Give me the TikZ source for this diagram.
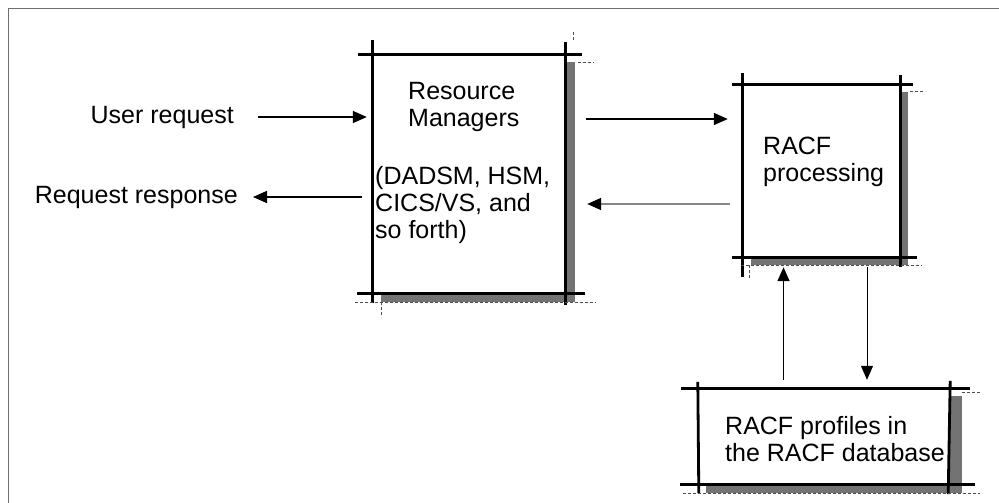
\documentclass[tikz,border=0pt]{standalone}
\usepackage{fontspec}
\setmainfont{Liberation Sans}
\usepackage{tikz}
\usetikzlibrary{arrows.meta,positioning,patterns}
\definecolor{framegray}{RGB}{110,110,110}
\definecolor{backgray}{RGB}{135,135,135}
\tikzset{
  sketchbox/.style={
    rectangle,
    inner sep=0pt,
    draw=none
  },
  sketchline/.style={
    line width=2.8pt,
    draw=black
  },
  sketchshadow/.style={
    fill=black!55
  },
  sketchdots/.style={
    densely dashed,
    line width=0.6pt,
    draw=black!70
  },
  boxtext/.style={
    align=left,
    inner sep=0pt,
    font=\fontsize{25}{27}\selectfont
  },
  flowarrow/.style={
    -{Triangle[length=14pt,width=12pt]},
    line width=1.5pt,
    draw=black
  }
}

\begin{document}
\begin{tikzpicture}[x=1pt,y=-1pt]
\useasboundingbox (0,0) rectangle (999,503);
\draw[framegray, line width=1.6pt] (999,8.5) -- (8.5,8.5) -- (8.5,503);

\node[sketchbox, minimum width=192pt, minimum height=238pt] (rm) at (469,174) {};
\node[sketchbox, minimum width=157pt, minimum height=172pt] (racf) at (821.5,171) {};
\node[sketchbox, minimum width=252pt, minimum height=95pt] (db) at (824,436.5) {};

% shadows first, frame lines on top
\fill[sketchshadow] ([yshift=-7pt]rm.north east) rectangle ([xshift=10pt,yshift=-9pt]rm.south east);
\fill[sketchshadow] ([xshift=8pt]rm.south west) rectangle ([xshift=10pt,yshift=-9pt]rm.south east);
\fill[sketchshadow] ([yshift=-7pt]racf.north east) rectangle ([xshift=8pt,yshift=-8pt]racf.south east);
\fill[sketchshadow] ([xshift=8pt]racf.south west) rectangle ([xshift=8pt,yshift=-8pt]racf.south east);
\fill[sketchshadow] ([yshift=-7pt]db.north east) rectangle ([xshift=12pt,yshift=-9pt]db.south east);
\fill[sketchshadow] ([xshift=8pt]db.south west) rectangle ([xshift=12pt,yshift=-9pt]db.south east);

\draw[sketchline] ([xshift=-15pt]rm.north west) -- ([xshift=17pt]rm.north east);
\draw[sketchline] ([xshift=-16pt]rm.south west) -- ([xshift=20pt]rm.south east);
\draw[sketchline] ([yshift=15pt]rm.north west) -- ([yshift=-10pt]rm.south west);
\draw[sketchline] ([yshift=13pt]rm.north east) -- ([yshift=-12pt]rm.south east);
\draw[sketchdots] ([xshift=13pt,yshift=-8pt]rm.north east) -- +(16pt,0);
\draw[sketchdots] ([xshift=-18pt,yshift=-9pt]rm.south west) -- ([xshift=30pt,yshift=-9pt]rm.south east);
\draw[sketchdots] ([xshift=8pt,yshift=-9pt]rm.south west) -- +(0,-14pt);
\draw[sketchdots] ([xshift=8pt,yshift=15pt]rm.north east) -- +(0,8pt);

\draw[sketchline] ([xshift=-11pt]racf.north west) -- ([xshift=13pt]racf.north east);
\draw[sketchline] ([xshift=-11pt]racf.south west) -- ([xshift=17pt]racf.south east);
\draw[sketchline] ([yshift=12pt]racf.north west) -- ([yshift=-20pt]racf.south west);
\draw[sketchline] ([yshift=10pt]racf.north east) -- ([yshift=-10pt]racf.south east);
\draw[sketchdots] ([xshift=10pt,yshift=-7pt]racf.north east) -- +(14pt,0);
\draw[sketchdots] ([xshift=-2pt,yshift=-8pt]racf.south west) -- ([xshift=22pt,yshift=-8pt]racf.south east);
\draw[sketchdots] ([xshift=6pt,yshift=-8pt]racf.south west) -- +(0,-14pt);

\draw[sketchline] ([xshift=-17pt]db.north west) -- ([xshift=20pt]db.north east);
\draw[sketchline] ([xshift=-18pt]db.south west) -- ([xshift=25pt]db.south east);
\draw[sketchline] ([yshift=7pt]db.north west) -- ([xshift=1pt,yshift=-9pt]db.south west);
\draw[sketchline] ([yshift=8pt]db.north east) -- ([xshift=-2pt,yshift=-10pt]db.south east);
\draw[sketchdots] ([xshift=12pt,yshift=-3pt]db.north east) -- +(18pt,0);
\draw[sketchdots] ([xshift=-15pt,yshift=-9pt]db.south west) -- ([xshift=30pt,yshift=-9pt]db.south east);

\node[boxtext, anchor=west] (rmtitle) at (408,106.5) {Resource\\Managers};
\node[boxtext, anchor=west] (rmlist) at (375,205) {(DADSM, HSM,\\CICS/VS, and\\so forth)};
\node[boxtext, anchor=west] (racftext) at (763,161.5) {RACF\\processing};
\node[boxtext, anchor=west] (dbtext) at (725,439) {RACF profiles in\\the RACF database};

\node[boxtext, anchor=east] (user) at (234,117) {User request};
\node[boxtext, anchor=east] (resp) at (238,197) {Request response};

\draw[flowarrow, shorten >=6pt] ([xshift=24pt]user.east) -- (user.east -| rm.west);
\draw[flowarrow, shorten <=11pt] (resp.east -| rm.west) -- ([xshift=15pt]resp.east);
\draw[flowarrow, shorten >=15pt] ([xshift=21pt,yshift=55pt]rm.east) -- ([yshift=55pt]rm.east -| racf.west);
\draw[flowarrow, draw=backgray, -{Triangle[length=14pt,width=12pt,color=black]}, shorten >=22pt] ([xshift=-13pt,yshift=-33pt]racf.west) -- ([yshift=-33pt]racf.west -| rm.east);
\draw[flowarrow, shorten <=9pt, shorten >=10pt] ([xshift=-38pt]racf.south |- db.north) -- ([xshift=-38pt]racf.south);
\draw[flowarrow, line width=1pt, shorten <=10pt, shorten >=9pt] ([xshift=45.5pt]racf.south) -- ([xshift=45.5pt]racf.south |- db.north);
\end{tikzpicture}
\end{document}
